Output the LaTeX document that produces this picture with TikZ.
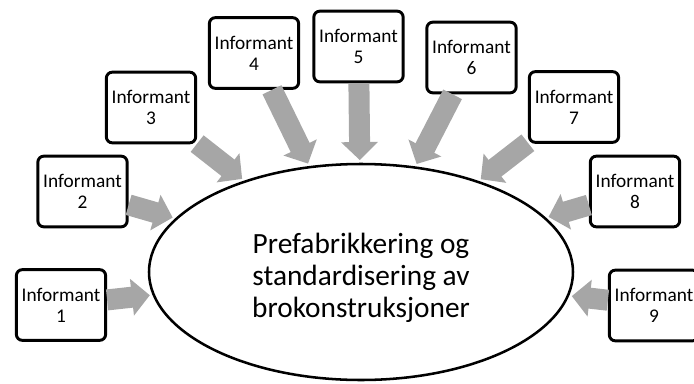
\documentclass[tikz,border=0pt]{standalone}
\usepackage{fontspec}
\setmainfont{Carlito}
\usetikzlibrary{arrows.meta,shapes.geometric}
\definecolor{pilgraa}{HTML}{A6A6A6}
\tikzset{
  inf/.style={draw, line width=2.2pt, rounded corners=4.5pt, fill=white,
    minimum width=67pt, minimum height=53pt, align=center, inner sep=1pt,
    font=\fontsize{14.5}{15.75}\selectfont},
  emne/.style={draw, ellipse, line width=1.9pt, minimum width=318pt,
    minimum height=162pt, align=center, font=\fontsize{22}{24}\selectfont},
  pil/.style={draw=pilgraa, line width=15.75pt,
    -{Triangle[length=13.5pt,width=27pt]}, shorten >=2pt}
}

\begin{document}
\begin{tikzpicture}[x=0.75pt,y=-0.75pt]
\useasboundingbox (0,0) rectangle (694,383);
\node [emne] (p) at (361,272) {\rule{0pt}{24pt}Prefabrikkering og\\standardisering av\\brokonstruksjoner};
\node [inf] (i1) at (61,305) {Informant\\1};
\node [inf] (i2) at (82.5,191.5) {Informant\\2};
\node [inf] (i3) at (151,107.5) {Informant\\3};
\node [inf] (i4) at (254,53) {Informant\\4};
\node [inf] (i5) at (358.5,46.5) {Informant\\5};
\node [inf] (i6) at (471.5,57.5) {Informant\\6};
\node [inf] (i7) at (574,107) {Informant\\7};
\node [inf] (i8) at (635,191.5) {Informant\\8};
\node [inf] (i9) at (654,305.5) {Informant\\9};
\draw [pil] (i1) -- (p);
\draw [pil] (i2) -- (p);
\draw [pil] (i3) -- (p);
\draw [pil] (i4) -- (p);
\draw [pil] (i5) -- (p);
\draw [pil] (i6) -- (p);
\draw [pil] (i7) -- (p);
\draw [pil] (i8) -- (p);
\draw [pil] (i9) -- (p);
\end{tikzpicture}
\end{document}
